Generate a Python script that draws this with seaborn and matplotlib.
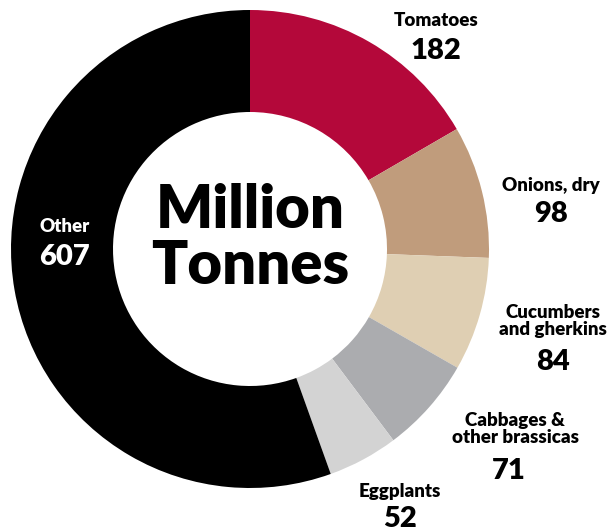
import matplotlib
matplotlib.use("Agg")
import matplotlib.pyplot as plt
import seaborn as sns

sns.set_theme(style="white")
plt.rcParams['font.family'] = ['Lato', 'DejaVu Sans']

categories = ["Tomatoes", "Onions, dry", "Cucumbers\nand gherkins",
              "Cabbages &\nother brassicas", "Eggplants", "Other"]
values = [182, 98, 84, 71, 52, 607]
colors = ["#B4083A", "#C09C7C", "#DFCFB3", "#ABACAF", "#D3D3D3", "#000000"]

# label layout (pixel positions, y from top): name position, value position
name_pos = [(436, 20), (551, 185), (553, 321), (515, 429), (400, 491), (65, 226)]
value_pos = [(436, 51), (551, 214), (553, 362), (509, 471), (400, 519), (65, 257)]
text_colors = ["black", "black", "black", "black", "black", "white"]

W, H = 614, 530
fig = plt.figure(figsize=(W / 100, H / 100), dpi=100)
ax = fig.add_axes([0, 0, 1, 1])

cx, cy, R = 250, H - 249, 239
ax.pie(values, colors=colors, startangle=90, counterclock=False,
       center=(cx, cy), radius=R, frame=True,
       wedgeprops=dict(width=R - 137, linewidth=0))
ax.set_xlim(0, W)
ax.set_ylim(0, H)
ax.set_aspect("equal")
ax.axis("off")

for name, val, (nx, ny), (vx, vy), tc in zip(categories, values, name_pos, value_pos, text_colors):
    ax.text(nx, H - ny, name, ha="center", va="center", fontsize=13.5,
            fontweight="heavy", color=tc, linespacing=1.0)
    ax.text(vx, H - vy, str(val), ha="center", va="center", fontsize=21,
            fontweight="heavy", color=tc)

ax.text(cx, H - 211, "Million", ha="center", va="center", fontsize=43,
        fontweight="heavy", color="black")
ax.text(cx, H - 267, "Tonnes", ha="center", va="center", fontsize=43,
        fontweight="heavy", color="black")

fig.savefig("out.png", dpi=100)
